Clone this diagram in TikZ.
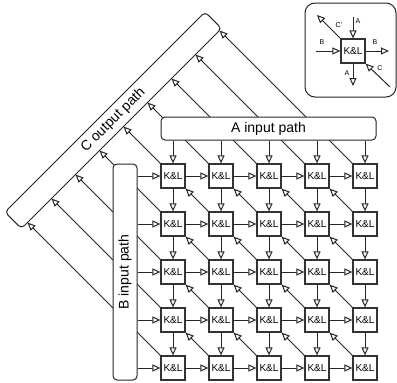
\documentclass[tikz,border=0pt]{standalone}
\usepackage{fontspec}
\setmainfont{Liberation Sans}
\usetikzlibrary{arrows.meta}
\begin{document}
\begin{tikzpicture}[x=1pt,y=-1pt,
  kl/.style={draw=black!80,line width=1.2pt,fill=white,minimum size=24pt,inner sep=0pt,font=\fontsize{10}{10}\selectfont},
  pathbar/.style={draw=black!85,line width=1pt,fill=white,rounded corners=4pt,inner sep=0pt,font=\fontsize{14}{14}\selectfont},
  arr/.style={draw=black!85,line width=1pt,-{Triangle[length=8pt,width=7pt,fill=white]}},
  lbl/.style={font=\fontsize{7}{7}\selectfont,inner sep=0pt}]
\useasboundingbox (0,0) rectangle (397,383);
% C output path
\node[pathbar,rotate=45,minimum width=283pt,minimum height=23.3pt] (C) at (113.25,120.25) {C output path};
% K&L grid
\foreach \i in {0,...,4}{
  \foreach \j in {0,...,4}{
    \node[kl] (b\i\j) at ({173+48*\j},{176+48*\i}) {K\&L};
  }
}
% tip coordinates on C
\foreach \k in {-4,...,4}{
  \coordinate (ct\k) at ({123.5+24*\k},{126.5-24*\k});
}
% diagonal arrows to C
\foreach \j in {0,...,4}{
  \draw[arr] (b0\j.north west) -- (ct\j);
}
\foreach \i in {1,...,4}{
  \draw[arr] (b\i0.north west) -- (ct-\i);
}
% input paths
\node[pathbar,minimum width=215pt,minimum height=23pt] (A) at (268.5,128.5) {A input path};
\node[pathbar,rotate=90,minimum width=216pt,minimum height=24pt] (B) at (125,272) {B input path};
\foreach \j in {0,...,4}{
  \draw[arr] (b0\j.north |- A.south) -- (b0\j.north);
}
\foreach \i in {0,...,4}{
  \draw[arr] (b\i0.west -| B.south) -- (b\i0.west);
}
% grid connections
\foreach \i in {0,...,4}{
  \foreach \j in {0,...,3}{
    \pgfmathtruncatemacro{\jj}{\j+1}
    \draw[arr] (b\i\j.east) -- (b\i\jj.west);
    \draw[arr] (b\j\i.south) -- (b\jj\i.north);
  }
}
\foreach \i in {0,...,3}{
  \foreach \j in {0,...,3}{
    \pgfmathtruncatemacro{\ii}{\i+1}
    \pgfmathtruncatemacro{\jj}{\j+1}
    \draw[arr] (b\ii\jj.north west) -- (b\i\j.south east);
  }
}
% legend
\node[draw=black!85,line width=1pt,rounded corners=10pt,minimum width=91pt,minimum height=94pt,inner sep=0pt] (leg) at (350.5,50) {};
\node[kl] (L) at (353,51) {K\&L};
\coordinate (ain) at (353,17);
\coordinate (aout) at (353,86);
\coordinate (bin) at (316,51);
\coordinate (bout) at (389,51);
\coordinate (cin) at (390,87);
\coordinate (cout) at (317,15);
\draw[arr] (ain) -- (L.north);
\draw[arr] (L.south) -- (aout);
\draw[arr] (bin) -- (L.west);
\draw[arr] (L.east) -- (bout);
\draw[arr] (cin) -- (L.south east);
\draw[arr] (L.north west) -- (cout);
\node[lbl] (la1) at (358,21) {A};
\node[lbl] (la2) at (347,73) {A};
\node[lbl] (lb1) at (322,42) {B};
\node[lbl] (lb2) at (375,42) {B};
\node[lbl] (lc) at (380,68) {C};
\node[lbl] (lc2) at (339,25) {C'};
\end{tikzpicture}
\end{document}
